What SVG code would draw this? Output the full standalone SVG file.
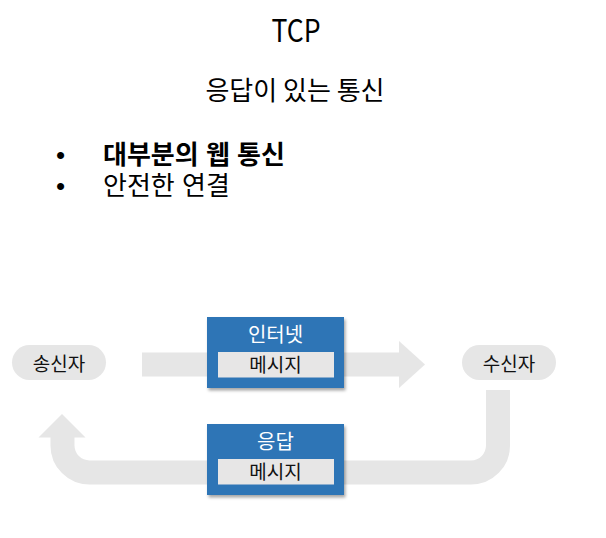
<svg xmlns="http://www.w3.org/2000/svg" width="606" height="538" viewBox="0 0 606 538">
  <style>
    text { font-family: "Noto Sans CJK KR", "Noto Sans", sans-serif; }
    .title { font-size: 31px; font-weight: 400; fill: #000; }
    .sub { font-size: 26px; fill: #000; }
    .bullet { font-family: "Liberation Sans", "Noto Sans CJK KR", sans-serif; font-size: 26px; fill: #000; }
    .pill { fill: #e6e6e6; }
    .pilltxt { font-size: 19px; fill: #111; }
    .box { fill: #2e75b6; }
    .inner { fill: #e7e6e6; }
    .boxtxt { font-size: 20px; fill: #fff; }
    .msg { font-size: 19px; fill: #111; }
    .flow { fill: none; stroke: #e6e6e6; stroke-width: 24; }
    .head { fill: #e6e6e6; }
  </style>
  <defs>
    <filter id="shadow" x="-10%" y="-10%" width="125%" height="130%">
      <feDropShadow dx="1.5" dy="2.5" stdDeviation="1.5" flood-color="#000" flood-opacity="0.35"/>
    </filter>
  </defs>

  <rect width="606" height="538" fill="#fff"/>

  <!-- headings -->
  <text class="title" x="296" y="41.5" text-anchor="middle" textLength="49" lengthAdjust="spacingAndGlyphs">TCP</text>
  <text class="sub" x="295" y="100" text-anchor="middle">응답이 있는 통신</text>
  <!-- bullet list -->
  <text class="bullet"><tspan x="56" y="164">•</tspan><tspan x="103" y="164" font-weight="700">대부분의 웹 통신</tspan><tspan x="56" y="195">•</tspan><tspan x="103" y="195">안전한 연결</tspan></text>

  <!-- connectors -->
  <g id="connectors">
    <line class="flow" x1="142" y1="364.5" x2="401" y2="364.5"/>
    <polygon class="head" points="399,341 425,364.5 399,388"/>
    <path class="flow" d="M498,390 V445 A27,27 0 0 1 471,472.5 H90 A27,27 0 0 1 62.5,445 V435"/>
    <polygon class="head" points="38.5,437.5 62,414 85.5,437.5"/>
  </g>

  <!-- nodes -->
  <g id="sender">
    <rect class="pill" x="12" y="345" width="94" height="35" rx="17.5"/>
    <text class="pilltxt" x="59" y="370.5" text-anchor="middle">송신자</text>
  </g>
  <g id="receiver">
    <rect class="pill" x="462" y="345" width="94" height="35" rx="17.5"/>
    <text class="pilltxt" x="509" y="370.5" text-anchor="middle">수신자</text>
  </g>
  <g id="internet">
    <rect class="box" x="207" y="317" width="137" height="71" filter="url(#shadow)"/>
    <text class="boxtxt" x="275.5" y="342" text-anchor="middle">인터넷</text>
    <rect class="inner" x="218" y="352" width="116" height="25.5"/>
    <text class="msg" x="275.5" y="371.5" text-anchor="middle">메시지</text>
  </g>
  <g id="response">
    <rect class="box" x="207" y="424" width="137" height="71" filter="url(#shadow)"/>
    <text class="boxtxt" x="275.5" y="449" text-anchor="middle">응답</text>
    <rect class="inner" x="218" y="459" width="116" height="25.5"/>
    <text class="msg" x="275.5" y="478.5" text-anchor="middle">메시지</text>
  </g>
</svg>
